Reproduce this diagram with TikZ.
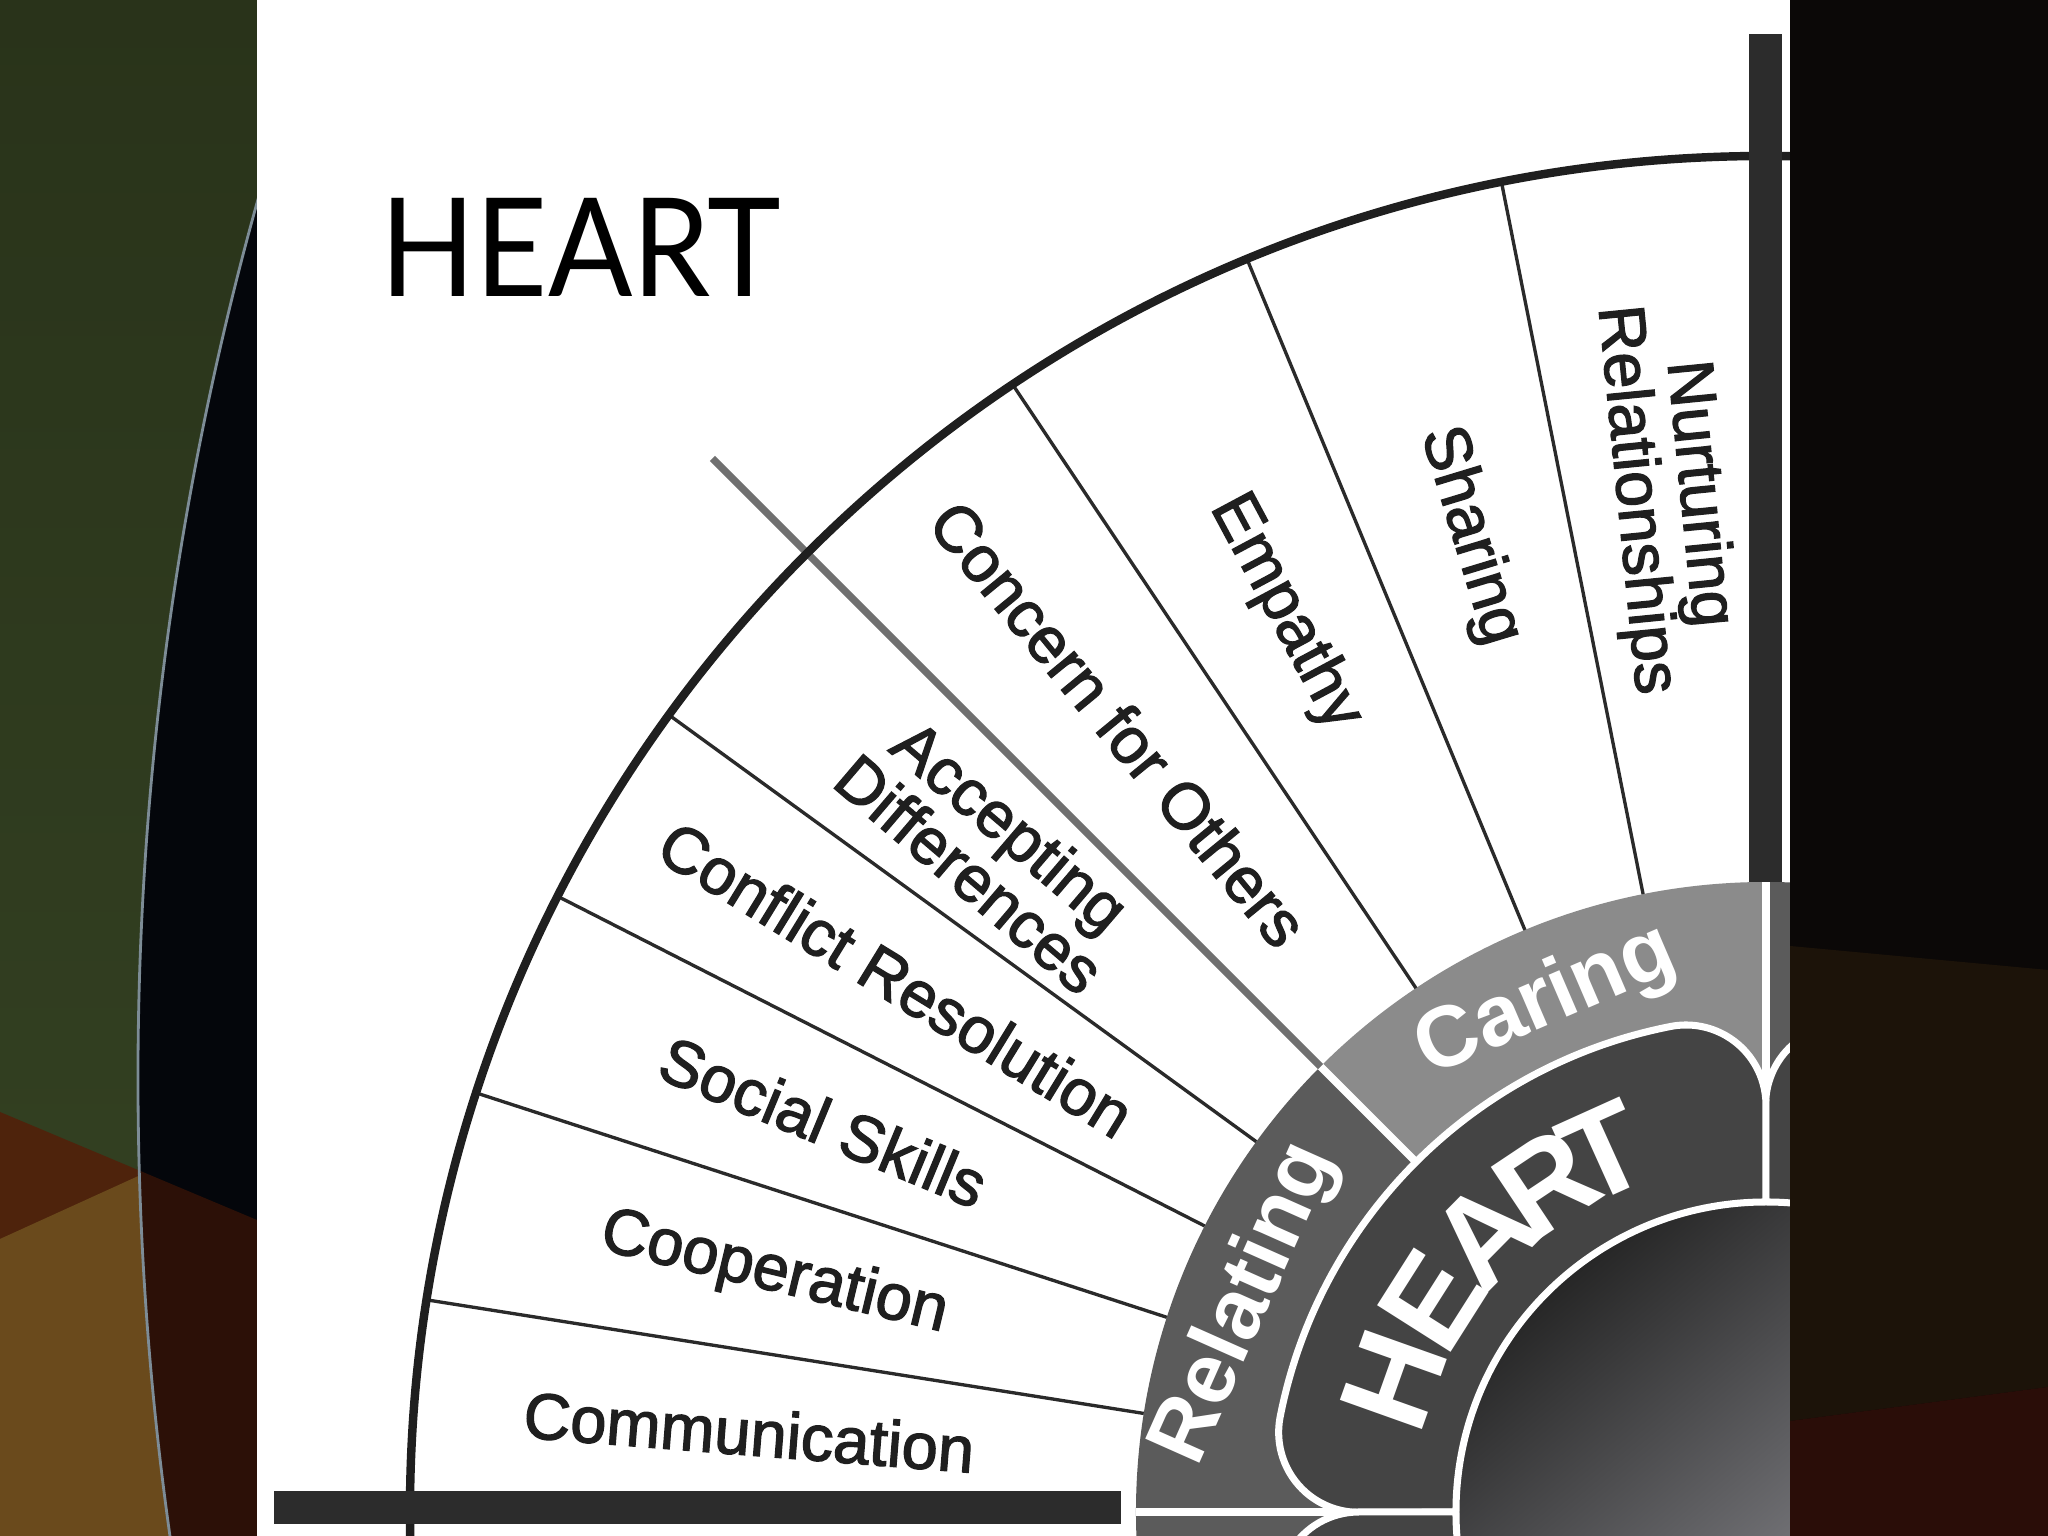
\documentclass[tikz,border=0pt]{standalone}
\usepackage{fontspec}
\setmainfont{Liberation Sans}
\newfontfamily\lblfont[FakeBold=2]{Liberation Sans}
\newfontfamily\titlefont{Lato}

\definecolor{greentop}{HTML}{29331A}
\definecolor{greenbot}{HTML}{354323}
\definecolor{brownred}{HTML}{4E230C}
\definecolor{ochre}{HTML}{6A4A1C}
\definecolor{navyblack}{HTML}{04060B}
\definecolor{darkred}{HTML}{2C1007}
\definecolor{rim}{HTML}{7D8C96}
\definecolor{nearblack}{HTML}{0B0807}
\definecolor{darkbrown}{HTML}{1C1309}
\definecolor{darkred2}{HTML}{2A0D08}
\definecolor{bandlight}{HTML}{8B8B8B}
\definecolor{banddark}{HTML}{5B5B5B}
\definecolor{petal}{HTML}{444444}
\definecolor{spoke}{HTML}{2A2A2A}
\definecolor{barcol}{HTML}{2C2C2C}
\definecolor{disklight}{HTML}{A9A9B0}

\begin{document}
\begin{tikzpicture}[>=latex,
    lbl/.style={font=\lblfont\fontsize{18.5}{18}\selectfont, align=center, text=black!88, inner sep=0pt},
    ringlbl/.style={font=\fontsize{24.5}{24}\selectfont\bfseries, text=white, inner sep=0pt},
    heartlbl/.style={font=\fontsize{36}{36}\selectfont\bfseries, text=white, inner sep=0pt},
    spokeline/.style={line width=0.95pt, draw=spoke}]
    \useasboundingbox (-17.66,-0.24) rectangle (2.82,15.12);
    % left strip
    \shade[top color=greentop, bottom color=greenbot] (-17.66,-0.24) rectangle (-15.09,15.12);
    \fill[brownred] (-17.66,4.0) -- (-15.09,2.92) -- (-15.09,-0.24) -- (-17.66,-0.24) -- cycle;
    \fill[ochre] (-17.66,2.73) -- (-15.09,3.90) -- (-15.09,-0.24) -- (-17.66,-0.24) -- cycle;
    \begin{scope}
        \clip (-17.66,-0.24) rectangle (-15.09,15.12);
        \fill[navyblack] (16.26,4.34) circle (32.54);
        \begin{scope}
            \clip (16.26,4.34) circle (32.54);
            \fill[darkred] (-17.66,4.0) -- (-15.09,2.92) -- (-15.09,-0.24) -- (-17.66,-0.24) -- cycle;
        \end{scope}
        \draw[rim, line width=0.8pt] (16.26,4.34) circle (32.54);
    \end{scope}
    % right strip
    \fill[nearblack] (0.24,-0.24) rectangle (2.82,15.12);
    \fill[darkbrown] (0.24,5.66) -- (2.82,5.42) -- (2.82,1.25) -- (0.24,0.91) -- cycle;
    \fill[darkred2] (0.24,0.91) -- (2.82,1.25) -- (2.82,-0.24) -- (0.24,-0.24) -- cycle;
    % the page
    \begin{scope}
        \clip (-15.09,-0.24) rectangle (0.24,15.12);
        \fill[white] (-15.09,-0.24) rectangle (0.24,15.12);
        \foreach \a/\c in {0/banddark, 45/banddark, 90/bandlight, 135/banddark, 180/banddark}
        {
            \fill[\c] (0,0) -- (\a:6.3) arc[start angle=\a, end angle=\a+45, radius=6.3] -- cycle;
        }
        \foreach \a in {45, 90, 135, 180}
        {
            \draw[white, line width=2.2pt] (0,0) -- (\a:6.3);
        }
        % petals with rounded outer corners
        \foreach \a in {0, 90, 180}
        {
            \draw[white, line width=2pt, fill=petal] (0,0) -- (\a:4.07)
                arc[start angle=\a-90, end angle=\a+11.1, radius=0.8]
                arc[start angle=\a+11.1, end angle=\a+78.9, radius=4.95]
                arc[start angle=\a+78.9, end angle=\a+180, radius=0.8] -- cycle;
        }
        \shade[top color=black!85, bottom color=disklight, shading angle=40] (0,0) circle (3.1);
        \draw[white, line width=2pt] (0,0) circle (3.1);
        % spokes
        \foreach \a in {171, 162, 153, 144, 123.75, 112.5, 101.25}
        {
            \draw[spokeline] (\a:6.3) -- (\a:13.56);
        }
        \draw[line width=2.1pt, draw=black!56] (135:6.3) -- (135:14.9);
        \draw[line width=2.4pt, draw=black!88] (0,0) circle (13.56);
        \draw[line width=0.33cm, barcol] (0,6.3) -- (0,14.78);
        \draw[line width=0.33cm, barcol] (-6.45,0.04) -- (-14.92,0.04);
        % labels
        \foreach \a/\t/\n in {175.5/{Communication}/comm, 166.5/{Cooperation}/coop,
            157.5/{Social Skills}/social, 148.5/{Conflict Resolution}/conflict,
            139.5/{Accepting\\Differences}/accept, 129.375/{Concern for Others}/concern,
            118.125/{Empathy}/empathy, 106.875/{Sharing}/sharing,
            95.625/{Nurturing\\Relationships}/nurture}
        {
            \node[lbl, rotate=\a-180] (\n) at (\a:10.2) {\t};
        }
        \node[ringlbl, rotate=66] (relating) at (158.2:5.6) {Relating};
        \node[ringlbl, rotate=23.3] (caring) at (113.3:5.55) {Caring};
        \foreach \l/\a in {H/160.4, E/147.6, A/135.4, R/123.7, T/114.3}
        {
            \node[heartlbl, rotate=\a-90] (heart\l) at (\a:3.95) {\l};
        }
    \end{scope}
    \node[font=\titlefont\fontsize{39}{39}\selectfont, inner sep=0pt] (title) at (-11.85,12.645) {\scalebox{0.91}[1]{HEART}};
\end{tikzpicture}
\end{document}
